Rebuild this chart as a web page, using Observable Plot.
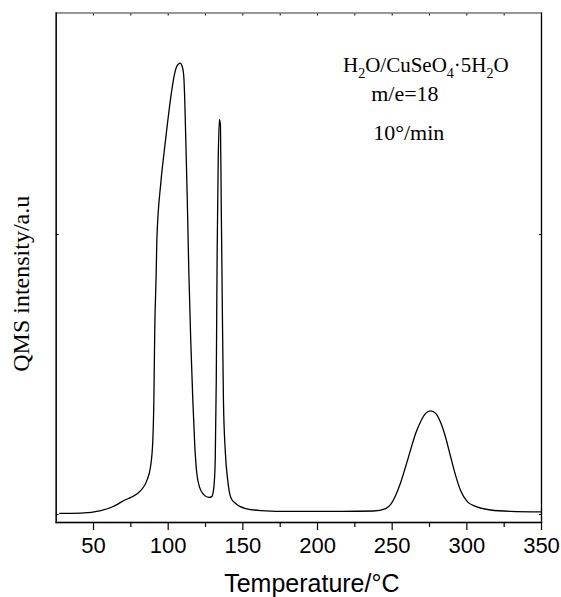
<!DOCTYPE html>
<html><head><meta charset="utf-8">
<script src="https://cdn.jsdelivr.net/npm/d3@7"></script>
<script src="https://cdn.jsdelivr.net/npm/@observablehq/plot@0.6"></script>
<style>body{margin:0;background:#fff}</style>
</head><body><div id="chart"></div>
<script>
// Temperature (°C) and QMS intensity (arbitrary units)
const temperature = [27.4,41.5,54.9,61.6,66.9,70.3,75,81.7,85.7,88.3,89.7,90.4,91,92,92.4,95.1,97.4,99.5,101.7,103.9,105.7,108,109.4,110.4,111.1,111.8,112.8,113.8,115.1,116.5,117.8,119.1,121.1,123.8,127.2,129.2,130.5,131.5,132.2,132.8,133.5,134.3,135,135.5,136.2,137,138.2,139.9,141.9,145.2,152,162,182.1,215.5,237.6,245.6,249,252.3,255.7,259,262.4,265.7,269.1,272.4,275.7,279.1,282.4,285.8,289.1,292.5,295.8,300.5,305.9,315.9,329.3,349.4];
const intensity = [0.004,0.005,0.014,0.025,0.039,0.05,0.061,0.086,0.121,0.175,0.264,0.407,0.657,0.871,0.979,1.186,1.3,1.396,1.489,1.564,1.6,1.612,1.6,1.568,1.479,1.336,1.121,0.871,0.621,0.407,0.246,0.15,0.096,0.071,0.061,0.064,0.093,0.193,0.479,0.943,1.264,1.411,1.389,1.121,0.764,0.407,0.229,0.121,0.061,0.039,0.021,0.014,0.011,0.011,0.0125,0.021,0.036,0.068,0.114,0.171,0.232,0.289,0.332,0.361,0.37,0.361,0.329,0.275,0.207,0.139,0.086,0.045,0.029,0.016,0.011,0.009];
const xTicks = [50,100,150,200,250,300,350];
const xMinorTicks = [75,125,175,225,275,325];
const yTicks = [0,1];
const xDomain = [25,350];
const yDomain = [-0.0286,1.791];
const xLabel = "Temperature/\u00B0C";
const yLabel = "QMS intensity/a.u";
const noteRate = "m/e=18";
const noteSpeed = "10\u00B0/min";
const formulaParts = [["H",0],["2",1],["O/CuSeO",0],["4",1],["\u00B75H",0],["2",1],["O",0]];

const data = temperature.map((t,i)=>({t, v:intensity[i]}));
const serif = "'Liberation Serif','Times New Roman',serif";
const sans = "'Liberation Sans',Arial,sans-serif";

const plot = Plot.plot({
  width: 561, height: 597,
  marginLeft: 55.7, marginTop: 12.5, marginRight: 20, marginBottom: 75,
  style: {fontFamily: sans, fontSize: "22px", color: "#000", background: "#fff"},
  x: {domain: xDomain},
  y: {domain: yDomain},
  marks: [
    Plot.frame({stroke: "#555", strokeWidth: 1.2}),
    Plot.frame({anchor: "left", stroke: "#000", strokeWidth: 1.3}),
    Plot.frame({anchor: "bottom", stroke: "#000", strokeWidth: 1.3}),
    Plot.frame({anchor: "right", stroke: "#000", strokeWidth: 1.2}),
    Plot.axisX({ticks: xTicks, tickSize: 8, tickPadding: 7, label: null, strokeWidth: 1.2, fontSize: 22}),
    Plot.axisX({ticks: xMinorTicks, tickSize: 5, text: null, label: null, strokeWidth: 1.2}),
    Plot.axisX({anchor: "top", ticks: xTicks.concat(xMinorTicks), tickSize: -2, text: null, label: null}),
    Plot.axisY({ticks: yTicks, tickSize: -3, text: null, label: null}),
    Plot.axisY({anchor: "right", ticks: yTicks, tickSize: -3, text: null, label: null}),
    Plot.line(data, {x: "t", y: "v", stroke: "#000", strokeWidth: 1.3, curve: "monotone-x"}),
    Plot.text([xLabel], {frameAnchor: "bottom", dy: 69, dx: 13, fontSize: 25, fontFamily: sans, lineAnchor: "bottom"}),
    Plot.text([yLabel], {frameAnchor: "left", dx: -35, dy: 16, rotate: -90, fontSize: 24, fontFamily: serif, textAnchor: "middle"}),
    Plot.text([noteRate], {frameAnchor: "top-left", dx: 315, dy: 88, fontSize: 22, fontFamily: serif, textAnchor: "start", lineAnchor: "bottom"}),
    Plot.text([noteSpeed], {frameAnchor: "top-left", dx: 317, dy: 127, fontSize: 22, fontFamily: serif, textAnchor: "start", lineAnchor: "bottom"})
  ]
});
document.getElementById("chart").appendChild(plot);

// formula with subscripts
const svg = d3.select(plot);
const t = svg.append("text")
  .attr("x", 343).attr("y", 72).attr("text-anchor", "start")
  .attr("font-family", serif).attr("font-size", 21).attr("fill", "#000");
let prevSub = 0;
formulaParts.forEach(([s,sub])=>{
  const ts = t.append("tspan").text(s);
  if (sub) ts.attr("font-size", 14).attr("dy", 6);
  else if (prevSub) ts.attr("dy", -6);
  prevSub = sub;
});
</script>
</body></html>
